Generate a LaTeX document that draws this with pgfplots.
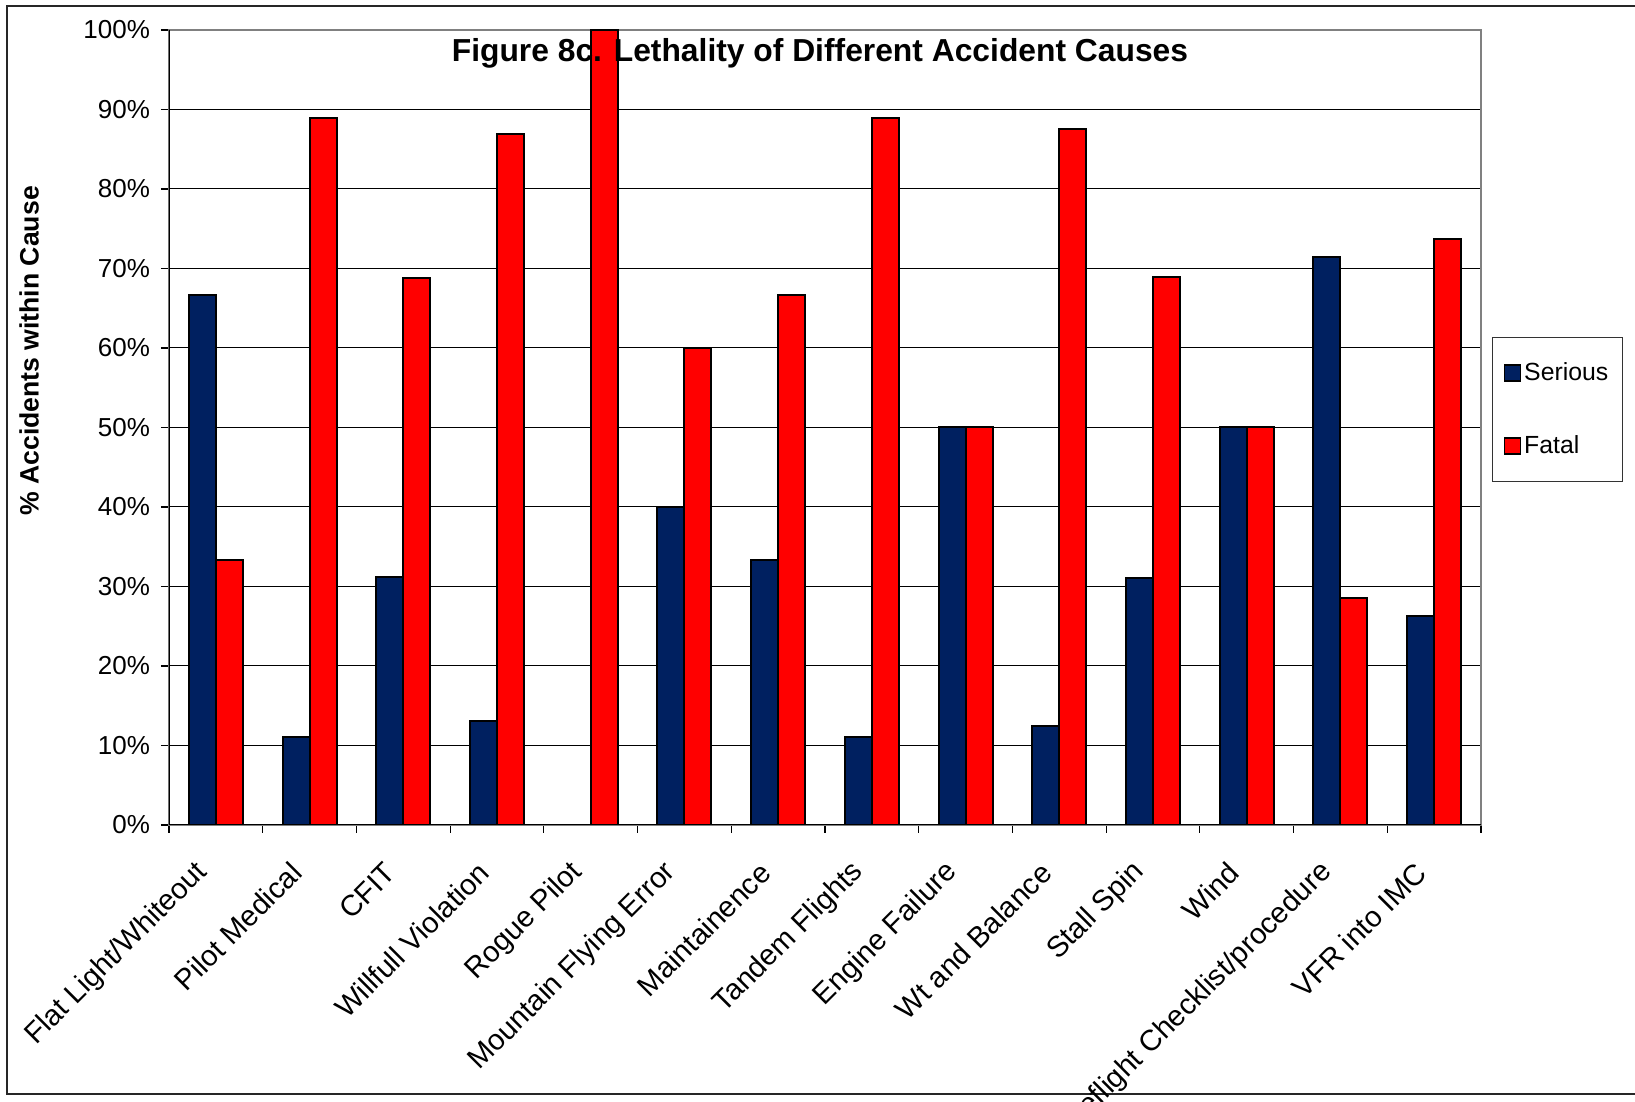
\documentclass[border=0pt]{standalone}
\usepackage{fontspec}
\setmainfont{Liberation Sans}
\usepackage{pgfplots}
\usepackage{pgfplotstable}
\pgfplotsset{compat=1.18}

\definecolor{serious}{RGB}{0,32,96}
\definecolor{fatal}{RGB}{255,0,0}

% Share of accidents (per cause) that were serious vs. fatal, in percent
\pgfplotstableread{
idx serious fatal
1  66.67 33.33
2  11.11 88.89
3  31.25 68.75
4  13.04 86.96
5  0.00  100.00
6  40.00 60.00
7  33.33 66.67
8  11.11 88.89
9  50.00 50.00
10 12.50 87.50
11 31.03 68.97
12 50.00 50.00
13 71.43 28.57
14 26.32 73.68
}\lethality

\newcommand{\chartfont}{\fontsize{13}{15.6}\selectfont}
\newcommand{\catfont}{\fontsize{14.6}{17.5}\selectfont}
\newcommand{\legfont}{\fontsize{12.4}{14.9}\selectfont}
\newcommand{\titlefont}{\fontsize{15.9}{19}\selectfont}

\begin{document}
\begin{tikzpicture}[font=\chartfont]
\useasboundingbox (0,0) rectangle (817.5pt,551pt);
\clip (0,0) rectangle (817.5pt,551pt);
\draw[line width=0.9pt, black!85] (3.5pt,4pt) rectangle (840pt,548pt);
\begin{axis}[
  at={(84.5pt,138.5pt)}, anchor=south west,
  width=656pt, height=397.5pt, scale only axis,
  xmin=0.5, xmax=14.5, ymin=0, ymax=100,
  ybar, bar width=13.5pt,
  xtick={1,...,14},
  xticklabels={Flat Light/Whiteout, Pilot Medical, CFIT, Willfull Violation,
    Rogue Pilot, Mountain Flying Error, Maintainence, Tandem Flights,
    Engine Failure, Wt and Balance, Stall Spin, Wind,
    Preflight Checklist/procedure, VFR into IMC},
  major x tick style={draw=none},
  minor xtick={0.5,1.5,...,14.5},
  xticklabel style={xshift=-4pt, yshift=-15pt, rotate=45, anchor=east, font=\catfont},
  ytick={0,10,...,100},
  yticklabels={0\%,10\%,20\%,30\%,40\%,50\%,60\%,70\%,80\%,90\%,100\%},
  yticklabel style={font=\chartfont, xshift=-2pt},
  tick pos=left,
  tick align=outside,
  major tick length=4pt, minor tick length=4pt,
  ymajorgrids, major grid style={black, line width=0.5pt},
  axis line style={draw=gray, line width=1pt},
  tick style={black, line width=0.6pt},
  legend cell align=left,
  legend style={at={(1.0084,0.5226)}, anchor=west, draw=black!80,
    line width=0.6pt, inner xsep=5.5pt, inner ysep=11pt, row sep=23pt,
    nodes={inner sep=1.5pt}, font=\legfont},
]
\addplot[fill=serious, draw=black, line width=1pt, bar shift=-6.75pt,
  legend image code/.code={\draw[fill=serious, draw=black, line width=0.8pt] (0pt,-4pt) rectangle (8pt,4pt);}]
  table[x=idx, y=serious] {\lethality};
\addplot[fill=fatal, draw=black, line width=1pt, bar shift=6.75pt,
  legend image code/.code={\draw[fill=fatal, draw=black, line width=0.8pt] (0pt,-4pt) rectangle (8pt,4pt);}]
  table[x=idx, y=fatal] {\lethality};
\legend{Serious,Fatal}
\draw[black, line width=0.8pt] (rel axis cs:0,1) -- (rel axis cs:0,0) -- (rel axis cs:1,0);
\end{axis}
\node[font=\bfseries\titlefont] at (410pt,524.5pt) {Figure 8c. Lethality of Different Accident Causes};
\node[font=\bfseries\fontsize{13.3}{16}\selectfont, rotate=90] at (14.5pt,375.5pt) {\% Accidents within Cause};
\end{tikzpicture}
\end{document}
